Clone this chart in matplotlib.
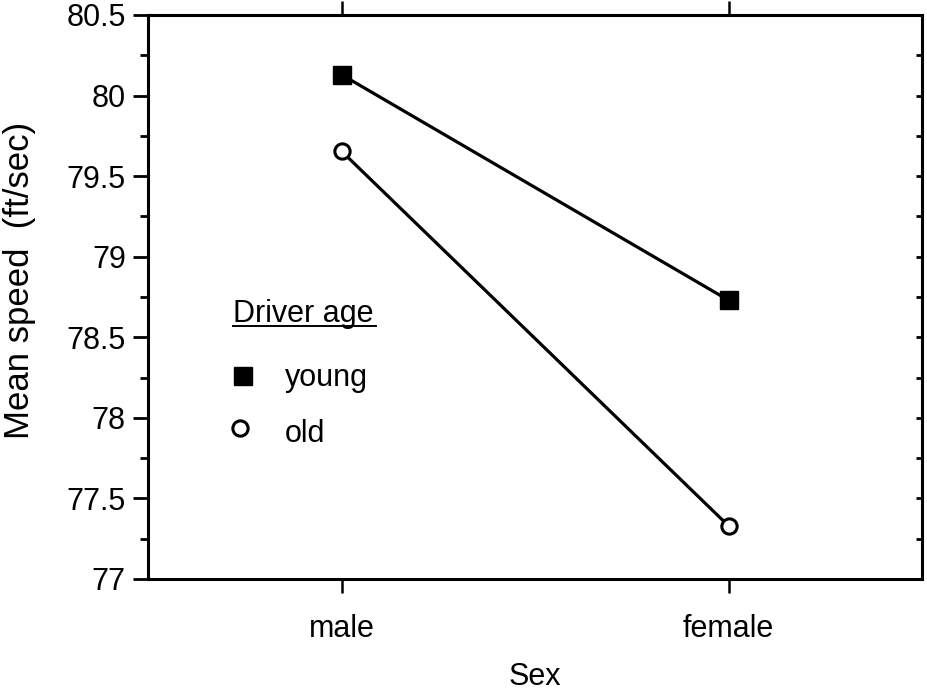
import numpy as np
import matplotlib.pyplot as plt
import matplotlib
from matplotlib.ticker import MultipleLocator, FormatStrFormatter

matplotlib.rcParams.update({'font.size': 22, 'font.family': ['Liberation Sans', 'DejaVu Sans']})

sexes = ['male', 'female']
young = [80.13, 78.73]
old = [79.655, 77.33]

x = np.arange(len(sexes))

fig = plt.figure(figsize=(9.28, 6.97), dpi=100)
ax = fig.add_axes([148/928, 1 - 579/697, (922-148)/928, (579-15)/697])

ax.plot(x, young, color='black', lw=2.3, marker='s', ms=13,
        mfc='black', mec='black', zorder=3)
ax.plot(x, old, color='black', lw=2.3, marker='o', ms=11,
        mfc='white', mec='black', mew=2.2, zorder=3)

ax.set_xlim(-0.5, 1.5)
ax.set_ylim(77, 80.5)
ax.set_xticks(x)
ax.set_xticklabels(sexes)
ax.yaxis.set_major_locator(MultipleLocator(0.5))
ax.yaxis.set_minor_locator(MultipleLocator(0.25))
ax.yaxis.set_major_formatter(FormatStrFormatter('%g'))

for s in ax.spines.values():
    s.set_linewidth(2.2)
ax.tick_params(axis='y', which='major', direction='out', length=11, width=2, pad=5)
ax.tick_params(axis='y', which='minor', direction='out', length=6, width=2)
ax.tick_params(axis='x', direction='out', length=10, width=1.8, pad=15, top=True)

# inward ticks on the right side
ax2 = ax.twinx()
ax2.set_ylim(77, 80.5)
ax2.yaxis.set_major_locator(MultipleLocator(0.25))
ax2.tick_params(axis='y', direction='in', length=4, width=2, labelright=False)
for s in ax2.spines.values():
    s.set_visible(False)

ax.set_xlabel('Sex', labelpad=13)
ax.set_ylabel('Mean speed  (ft/sec)', fontsize=25)
ax.yaxis.set_label_coords(-0.145, 0.53)

# hand-made legend
ax.text(-0.28, 78.593, 'Driver age', ha='left', va='baseline')
ax.plot([-0.28, 0.09], [78.572, 78.572], color='black', lw=1.4, clip_on=False)
ax.plot(-0.255, 78.26, marker='s', ms=13, color='black', ls='none')
ax.text(-0.146, 78.195, 'young', ha='left', va='baseline')
ax.plot(-0.262, 77.935, marker='o', ms=11, mfc='white', mec='black', mew=2.2, ls='none')
ax.text(-0.146, 77.848, 'old', ha='left', va='baseline')

plt.savefig('out.png', dpi=100)
